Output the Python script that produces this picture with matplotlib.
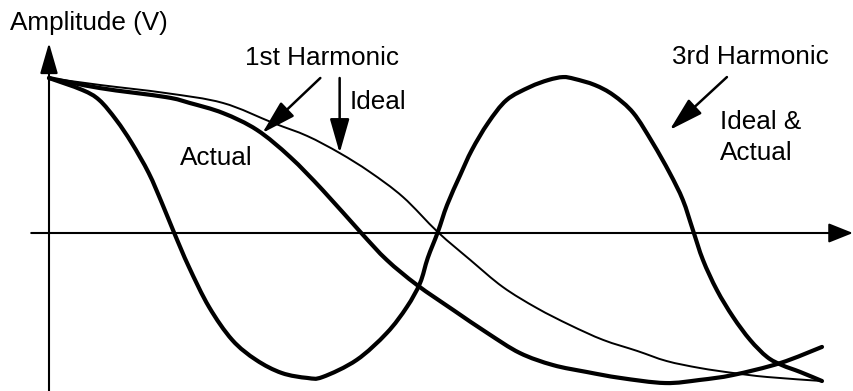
import matplotlib
matplotlib.use("Agg")
import matplotlib.pyplot as plt
from matplotlib.path import Path
from matplotlib.patches import PathPatch

plt.rcParams['font.family'] = ['Liberation Sans', 'DejaVu Sans']

# Phase (fraction of half period) and amplitude (normalized volts)
third_x = [0.000, 0.043, 0.065, 0.087, 0.107, 0.129, 0.146, 0.162, 0.181, 0.207, 0.237,
           0.268, 0.301, 0.334, 0.354, 0.398, 0.437, 0.463, 0.480, 0.490, 0.503, 0.515,
           0.532, 0.547, 0.568, 0.592, 0.622, 0.646, 0.665, 0.680, 0.706, 0.730, 0.756,
           0.781, 0.803, 0.820, 0.833, 0.846, 0.864, 0.885, 0.907, 0.929, 0.948, 0.972, 1.000]
third_y = [1.000, 0.923, 0.858, 0.729, 0.581, 0.387, 0.194, 0.000, -0.219, -0.477, -0.690,
           -0.819, -0.903, -0.935, -0.929, -0.819, -0.645, -0.477, -0.323, -0.161, 0.006,
           0.181, 0.374, 0.535, 0.710, 0.858, 0.942, 0.987, 1.006, 0.994, 0.955, 0.890,
           0.774, 0.581, 0.387, 0.213, 0.019, -0.174, -0.368, -0.542, -0.690, -0.800,
           -0.852, -0.897, -0.955]

actual_x = [0.000, 0.066, 0.151, 0.182, 0.225, 0.269, 0.312, 0.354, 0.404, 0.437, 0.476,
            0.523, 0.567, 0.609, 0.652, 0.696, 0.739, 0.797, 0.842, 0.885, 0.946, 1.000]
actual_y = [1.000, 0.935, 0.877, 0.839, 0.774, 0.665, 0.490, 0.277, 0.000, -0.174, -0.335,
            -0.497, -0.645, -0.774, -0.852, -0.897, -0.935, -0.968, -0.948, -0.916, -0.839,
            -0.735]

ideal_x = [0.000, 0.066, 0.151, 0.225, 0.290, 0.334, 0.376, 0.415, 0.458, 0.503, 0.545,
           0.587, 0.631, 0.674, 0.717, 0.761, 0.799, 0.842, 0.885, 0.929, 1.000]
ideal_y = [1.000, 0.955, 0.903, 0.839, 0.710, 0.626, 0.516, 0.394, 0.232, 0.006, -0.174,
           -0.348, -0.484, -0.594, -0.690, -0.761, -0.826, -0.871, -0.903, -0.929, -0.955]

fig = plt.figure(figsize=(8.54, 3.91), dpi=100)
ax = fig.add_axes([0, 0, 1, 1])
ax.set_xlim(-49 / 773, 805 / 773)
ax.set_ylim(-158 / 155, 233 / 155)
ax.axis('off')


def smooth_path(xs, ys):
    """Catmull-Rom through the read points, expressed as cubic Bezier segments."""
    pts = list(zip(xs, ys))
    n = len(pts)
    verts = [pts[0]]
    codes = [Path.MOVETO]
    for i in range(n - 1):
        p0 = pts[i - 1] if i > 0 else pts[i]
        p1 = pts[i]
        p2 = pts[i + 1]
        p3 = pts[i + 2] if i + 2 < n else pts[i + 1]
        c1 = (p1[0] + (p2[0] - p0[0]) / 6.0, p1[1] + (p2[1] - p0[1]) / 6.0)
        c2 = (p2[0] - (p3[0] - p1[0]) / 6.0, p2[1] - (p3[1] - p1[1]) / 6.0)
        verts += [c1, c2, p2]
        codes += [Path.CURVE4, Path.CURVE4, Path.CURVE4]
    return Path(verts, codes)


def draw_curve(xs, ys, lw):
    ax.add_patch(PathPatch(smooth_path(xs, ys), facecolor='none', edgecolor='black',
                           lw=lw, joinstyle='round', capstyle='round'))


draw_curve(ideal_x, ideal_y, 1.4)
draw_curve(actual_x, actual_y, 3.0)
draw_curve(third_x, third_y, 3.0)

# axes with arrows
ax.annotate('', xy=(0, 1.226), xytext=(0, -1.02),
            arrowprops=dict(arrowstyle='-|>,head_length=1.9,head_width=0.55',
                            mutation_scale=10, lw=1.5, color='black',
                            shrinkA=0, shrinkB=0))
ax.annotate('', xy=(1.040, 0.0), xytext=(-0.023, 0.0),
            arrowprops=dict(arrowstyle='-|>,head_length=1.5,head_width=0.6',
                            mutation_scale=10, lw=1.5, color='black',
                            shrinkA=0, shrinkB=0))


def lab_arrow(tip, start):
    ax.annotate('', xy=tip, xytext=start,
                arrowprops=dict(arrowstyle='-|>,head_length=2.1,head_width=0.6',
                                mutation_scale=10, lw=1.8, color='black',
                                shrinkA=0, shrinkB=0))


lab_arrow((0.276, 0.645), (0.351, 1.0))     # 1st harmonic -> actual
lab_arrow((0.376, 0.516), (0.376, 1.0))     # ideal
lab_arrow((0.803, 0.665), (0.877, 1.006))   # 3rd harmonic

fs = 18.8
ax.text(-0.050, 1.355, 'Amplitude (V)', fontsize=fs, ha='left', va='center')
ax.text(0.254, 1.129, '1st Harmonic', fontsize=fs, ha='left', va='center')
ax.text(0.389, 0.845, 'Ideal', fontsize=fs, ha='left', va='center')
ax.text(0.169, 0.484, 'Actual', fontsize=fs, ha='left', va='center')
ax.text(0.806, 1.135, '3rd Harmonic', fontsize=fs, ha='left', va='center')
ax.text(0.868, 0.716, 'Ideal &', fontsize=fs, ha='left', va='center')
ax.text(0.868, 0.516, 'Actual', fontsize=fs, ha='left', va='center')

fig.savefig('out.png', dpi=100, facecolor='white')
